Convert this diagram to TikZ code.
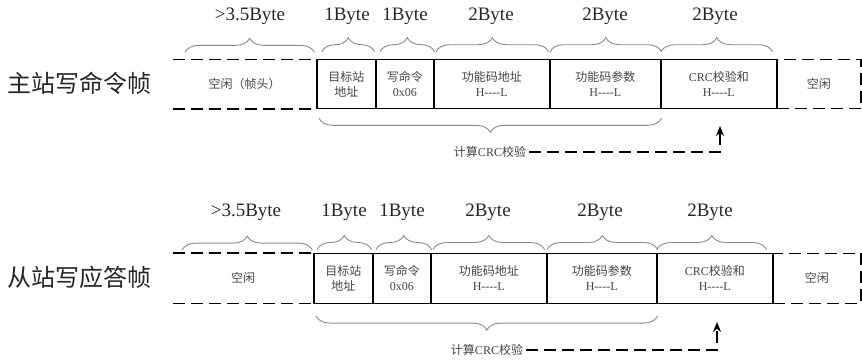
\documentclass[tikz,border=0pt]{standalone}
\usepackage{fontspec}
\setmainfont{Liberation Serif}
\newfontfamily\cjk{Noto Sans CJK SC}
\usetikzlibrary{decorations.pathreplacing,arrows.meta,calc}
\definecolor{txtgray}{HTML}{444444}
\definecolor{bracegray}{HTML}{8A8A8A}
\newcommand{\hlrange}{H-\kern0pt-\kern0pt-\kern0pt-L}
\begin{document}
\begin{tikzpicture}[x=1pt,y=-1pt,
  cell/.style={draw=black,line width=1.6pt,anchor=west,inner sep=0pt,align=center,
    text=txtgray,font=\fontsize{12}{15}\selectfont},
  idle/.style={anchor=west,inner sep=0pt,align=center,text=txtgray,font=\fontsize{12}{15}\selectfont},
  dline/.style={line width=1.6pt,dash pattern=on 12pt off 6pt},
  brc/.style={decorate,decoration={brace,amplitude=14pt},draw=bracegray,line width=0.9pt},
  bytelbl/.style={text=black!85,font=\fontsize{19}{22}\selectfont,inner sep=0pt},
  frame/.style={text=black!85,font=\cjk\fontsize{24}{28}\selectfont,inner sep=0pt,anchor=west},
  crclbl/.style={text=txtgray,font=\fontsize{12}{15}\selectfont,inner sep=3pt}]
\useasboundingbox (0,0) rectangle (862,359);

% ---------- frame 1 ----------
\node[frame] (n1) at (7,83) {主站写命令帧};
\node[idle,minimum width=143,minimum height=49] (i1) at (173,84) {\cjk 空闲（帧头）};
\draw[dline] (i1.north west) -- (i1.north east);
\draw[dline] (i1.south west) -- (i1.south east);
\node[idle,draw=black,dline,minimum width=84,minimum height=49] (r1) at (776,84) {\cjk 空闲};
\node[cell,minimum width=59,minimum height=49] (a1) at (316,84) {{\cjk 目标站}\\{\cjk 地址}};
\node[cell,minimum width=58,minimum height=49] (a2) at (375,84) {{\cjk 写命令}\\0x06};
\node[cell,minimum width=116,minimum height=49] (a3) at (433,84) {{\cjk 功能码地址}\\\hlrange};
\node[cell,minimum width=111,minimum height=49] (a4) at (549,84) {{\cjk 功能码参数}\\\hlrange};
\node[cell,minimum width=116,minimum height=49] (a5) at (660,84) {CRC{\cjk 校验和}\\\hlrange};

\draw[brc] ($(i1.north west)+(12,-7)$) -- ($(i1.north east)+(-2,-7)$);
\draw[brc] ($(a1.north west)+(6,-7)$) -- ($(a1.north east)+(-2,-7)$);
\draw[brc] ($(a2.north west)+(5,-7)$) -- ($(a2.north east)+(0,-7)$);
\draw[brc] ($(a3.north west)+(3,-7)$) -- ($(a3.north east)+(-2,-7)$);
\draw[brc] ($(a4.north west)+(1,-7)$) -- ($(a4.north east)+(0,-7)$);
\draw[brc] ($(a5.north west)+(1,-7)$) -- ($(a5.north east)+(-5,-7)$);

\node[bytelbl] (b10) at (250,16) {>3.5Byte};
\node[bytelbl] (b11) at (347,16) {1Byte};
\node[bytelbl] (b12) at (405,16) {1Byte};
\node[bytelbl] (b13) at (491,16) {2Byte};
\node[bytelbl] (b14) at (605,16) {2Byte};
\node[bytelbl] (b15) at (715,16) {2Byte};

\draw[brc] ($(a4.south east)+(0,9)$) -- ($(a1.south west)+(3,9)$);
\node[crclbl] (c1) at (490,152) {{\cjk 计算}CRC{\cjk 校验}};
\coordinate (t1) at (720,126);
\draw[dline,-{Stealth[length=10pt,width=8pt]}] (c1.east) -| (t1);

% ---------- frame 2 ----------
\node[frame] (n2) at (7,277) {从站写应答帧};
\node[idle,minimum width=140,minimum height=50] (i2) at (173,278.3) {\cjk 空闲};
\draw[dline] (i2.north west) -- (i2.north east);
\draw[dline] (i2.south west) -- (i2.south east);
\node[idle,draw=black,dline,minimum width=88,minimum height=50] (r2) at (772,278.3) {\cjk 空闲};
\node[cell,minimum width=59,minimum height=50] (d1) at (313,278.3) {{\cjk 目标站}\\{\cjk 地址}};
\node[cell,minimum width=58,minimum height=50] (d2) at (372,278.3) {{\cjk 写命令}\\0x06};
\node[cell,minimum width=116,minimum height=50] (d3) at (430,278.3) {{\cjk 功能码地址}\\\hlrange};
\node[cell,minimum width=110,minimum height=50] (d4) at (546,278.3) {{\cjk 功能码参数}\\\hlrange};
\node[cell,minimum width=116,minimum height=50] (d5) at (656,278.3) {CRC{\cjk 校验和}\\\hlrange};

\draw[brc] ($(i2.north west)+(9,-3)$) -- ($(i2.north east)+(-1,-3)$);
\draw[brc] ($(d1.north west)+(4,-3)$) -- ($(d1.north east)+(-2,-3)$);
\draw[brc] ($(d2.north west)+(4,-3)$) -- ($(d2.north east)+(0,-3)$);
\draw[brc] ($(d3.north west)+(3,-3)$) -- ($(d3.north east)+(-3,-3)$);
\draw[brc] ($(d4.north west)+(1,-3)$) -- ($(d4.north east)+(0,-3)$);
\draw[brc] ($(d5.north west)+(1,-3)$) -- ($(d5.north east)+(-7,-3)$);

\node[bytelbl] (b20) at (246,212) {>3.5Byte};
\node[bytelbl] (b21) at (344,212) {1Byte};
\node[bytelbl] (b22) at (402,212) {1Byte};
\node[bytelbl] (b23) at (488,212) {2Byte};
\node[bytelbl] (b24) at (600,212) {2Byte};
\node[bytelbl] (b25) at (710,212) {2Byte};

\draw[brc] ($(d4.south east)+(0,12)$) -- ($(d1.south west)+(3,12)$);
\node[crclbl] (c2) at (487,350) {{\cjk 计算}CRC{\cjk 校验}};
\coordinate (t2) at (717,322);
\draw[dline,-{Stealth[length=10pt,width=8pt]}] (c2.east) -| (t2);
\end{tikzpicture}
\end{document}
